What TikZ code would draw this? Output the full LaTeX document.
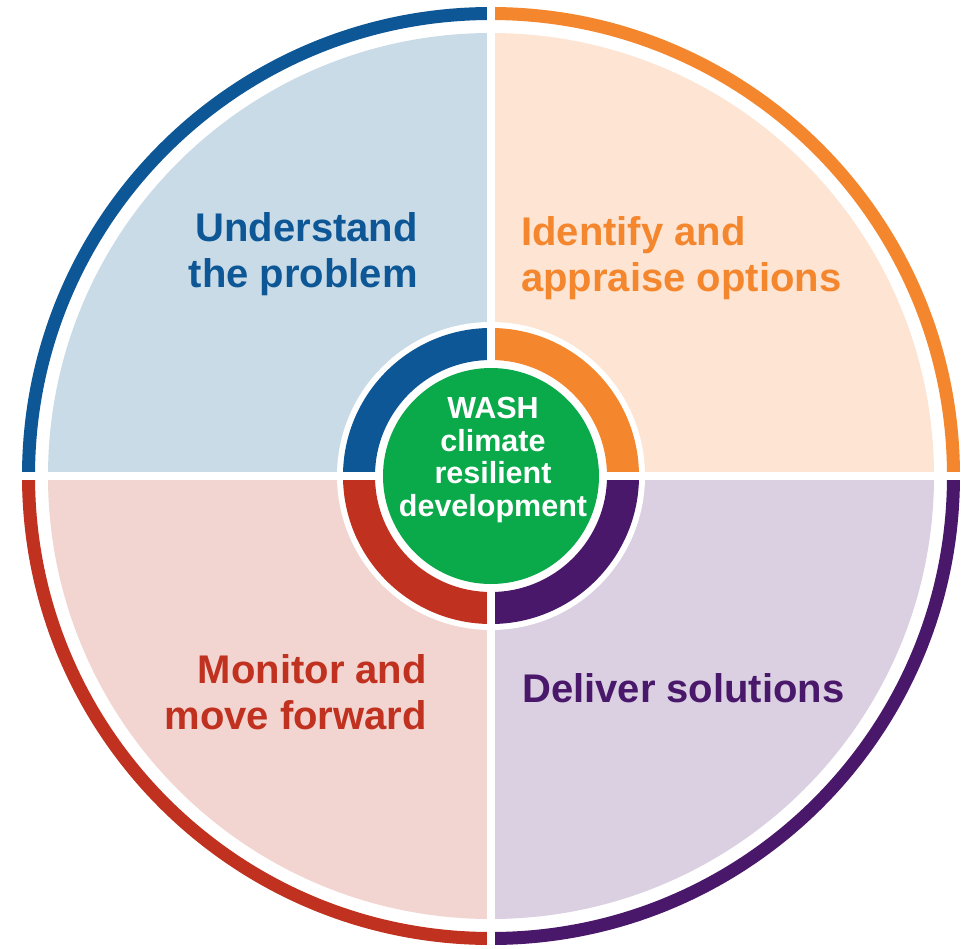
\documentclass[tikz,border=0pt]{standalone}
\usepackage{fontspec}
\setmainfont{Liberation Sans}
\usepackage{xcolor}
\usepackage{tikz}

\definecolor{undBlue}{HTML}{0E5796}
\definecolor{undLight}{HTML}{C9DBE7}
\definecolor{idOrange}{HTML}{F4872E}
\definecolor{idLight}{HTML}{FDE4D3}
\definecolor{delPurple}{HTML}{4A186A}
\definecolor{delLight}{HTML}{DBD0E2}
\definecolor{monRed}{HTML}{C0311F}
\definecolor{monLight}{HTML}{F2D4D0}
\definecolor{hubGreen}{HTML}{0AAA4B}

\begin{document}
\begin{tikzpicture}[x=1pt, y=1pt,
  rim/.style={line width=13pt},
  band/.style={line width=32pt},
  gapline/.style={white, line width=8pt},
  stage/.style={font=\fontsize{40}{46}\selectfont\bfseries, inner sep=0pt},
  hub/.style={font=\fontsize{30.5}{32.5}\selectfont\bfseries, text=white, align=center, inner sep=0pt}
]
\def\rout{462.5pt}
\def\rfill{443pt}
\def\rcut{154pt}
\def\rband{132pt}
\def\rhub{108pt}

\useasboundingbox (-491,-472) rectangle (480,476);
\fill[white] (-491,-472) rectangle (480,476);

% outer rim and the four quarters
\foreach \a/\rimcol/\fillcol in {90/undBlue/undLight, 0/idOrange/idLight, 270/delPurple/delLight, 180/monRed/monLight} {
  \draw[rim, \rimcol] (\a:\rout) arc[start angle=\a, end angle=\a+90, radius=\rout];
  \fill[\fillcol] (0,0) -- (\a:\rfill) arc[start angle=\a, end angle=\a+90, radius=\rfill] -- cycle;
}

% inner band
\fill[white] (0,0) circle[radius=\rcut];
\foreach \a/\rimcol in {90/undBlue, 0/idOrange, 270/delPurple, 180/monRed} {
  \draw[band, \rimcol] (\a:\rband) arc[start angle=\a, end angle=\a+90, radius=\rband];
}

% white cross between the quarters
\draw[gapline] (-480,0) -- (480,0);
\draw[gapline] (0,-480) -- (0,480);

\fill[hubGreen] (0,0) circle[radius=\rhub];

\node[stage, text=undBlue, align=right, anchor=north east] (understand) at (-73,264) {Understand\\the problem};
\node[stage, text=idOrange, align=left, anchor=north west] (identify) at (30,260) {Identify and\\appraise options};
\node[stage, text=monRed, align=right, anchor=north east] (monitor) at (-64,-178) {Monitor and\\move forward};
\node[stage, text=delPurple, align=left, anchor=north west] (deliver) at (31,-197) {Deliver solutions};

\node[hub, anchor=north] (wash) at (2,79) {WASH\\climate\\resilient\\development};

\end{tikzpicture}
\end{document}
